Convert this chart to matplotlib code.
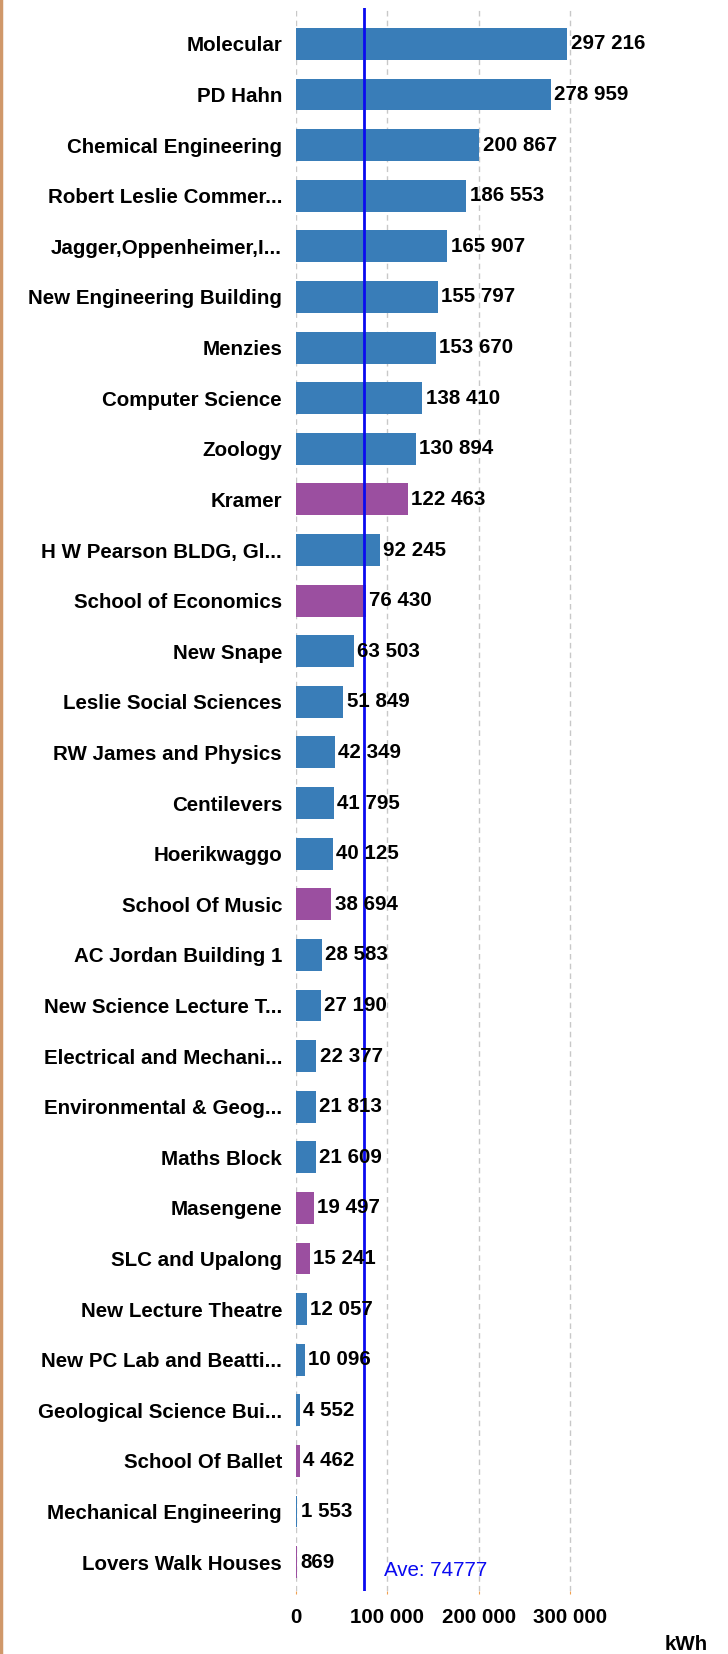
import numpy as np
import matplotlib.pyplot as plt
from matplotlib.lines import Line2D

buildings = ["Molecular", "PD Hahn", "Chemical Engineering", "Robert Leslie Commer...",
             "Jagger,Oppenheimer,I...", "New Engineering Building", "Menzies",
             "Computer Science", "Zoology", "Kramer", "H W Pearson BLDG, Gl...",
             "School of Economics", "New Snape", "Leslie Social Sciences",
             "RW James and Physics", "Centilevers", "Hoerikwaggo", "School Of Music",
             "AC Jordan Building 1", "New Science Lecture T...", "Electrical and Mechani...",
             "Environmental & Geog...", "Maths Block", "Masengene", "SLC and Upalong",
             "New Lecture Theatre", "New PC Lab and Beatti...", "Geological Science Bui...",
             "School Of Ballet", "Mechanical Engineering", "Lovers Walk Houses"]
kwh = [297216, 278959, 200867, 186553, 165907, 155797, 153670, 138410, 130894, 122463,
       92245, 76430, 63503, 51849, 42349, 41795, 40125, 38694, 28583, 27190, 22377,
       21813, 21609, 19497, 15241, 12057, 10096, 4552, 4462, 1553, 869]
highlight = ["Kramer", "School of Economics", "School Of Music", "Masengene",
             "SLC and Upalong", "School Of Ballet", "Lovers Walk Houses"]
average = 74777
xticks = [0, 100000, 200000, 300000]

blue = "#397DB8"
purple = "#9B4FA0"
fs = 14.8
plt.rcParams['font.family'] = ['Liberation Sans', 'DejaVu Sans']

fig = plt.figure(figsize=(7.28, 16.54), dpi=100)
ax = fig.add_axes([296 / 728, 1 - 1591 / 1654, 404 / 728, (1591 - 8) / 1654])

y = np.arange(len(buildings))
colors = [purple if b in highlight else blue for b in buildings]
ax.barh(y, kwh, height=0.63, color=colors, zorder=2)
for yi, v in zip(y, kwh):
    ax.text(v + 3500, yi, f"{v:,}".replace(",", " "), va='center', ha='left',
            fontsize=fs, fontweight='bold', zorder=4)

ax.set_xlim(0, 442500)
ax.set_ylim(len(buildings) - 0.43, -0.71)
ax.set_yticks(y)
ax.set_yticklabels(buildings, fontsize=fs, fontweight='bold')
ax.set_xticks(xticks)
ax.set_xticklabels([f"{t:,}".replace(",", " ") for t in xticks], fontsize=fs, fontweight='bold')
ax.tick_params(axis='y', length=0, pad=10)
ax.tick_params(axis='x', length=2, color='#F0A050', pad=10)
ax.grid(axis='x', color='#C8C8C8', linestyle=(0, (4, 3)), linewidth=1, zorder=0)
for s in ax.spines.values():
    s.set_visible(False)

ax.axvline(average, color='#0A0AF0', linewidth=2, zorder=3)
ax.text(average + 22000, len(buildings) - 1 + 0.17, f"Ave: {average}", color='#0A0AF0',
        fontsize=fs, va='center', ha='left')

fig.text(708 / 728, 1 - 1645 / 1654, "kWh", fontsize=fs, fontweight='bold',
         ha='right', va='center')
fig.add_artist(Line2D([0.0015, 0.0015], [0, 1], color='#D0986A', linewidth=2.5,
                      transform=fig.transFigure))

fig.savefig("out.png", dpi=100)
